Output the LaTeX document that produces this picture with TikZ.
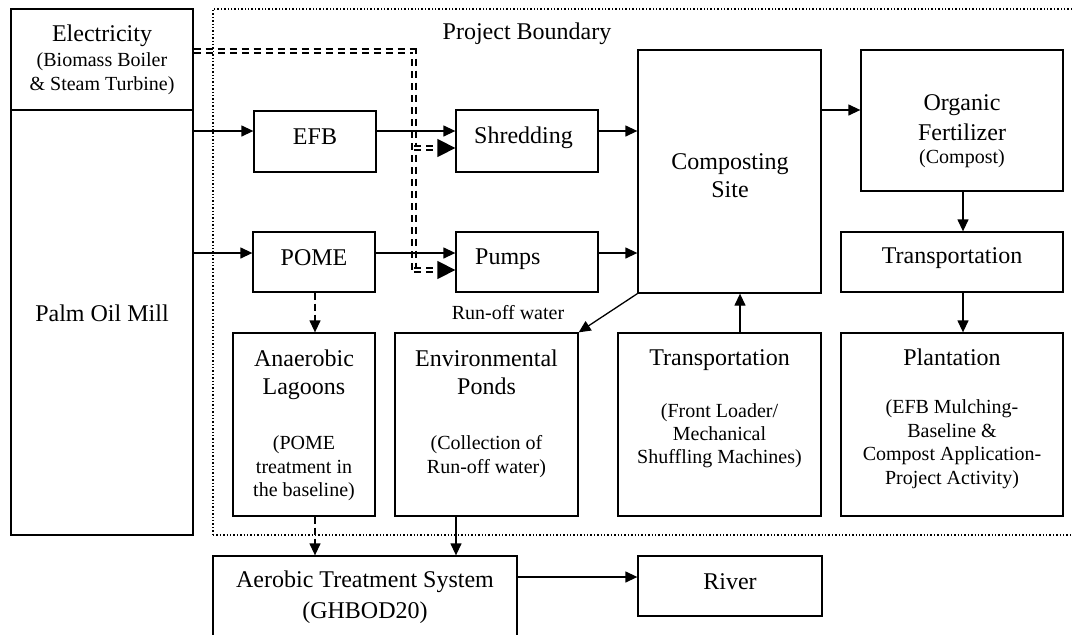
\documentclass[tikz,border=0pt]{standalone}
\usepackage{fontspec}
\setmainfont{Liberation Serif}
\usetikzlibrary{arrows.meta,fit}
\begin{document}
\begin{tikzpicture}[x=1pt,y=-1pt,
  box/.style={draw,line width=1.3pt,inner sep=0pt,rectangle},
  big/.style={font=\fontsize{24}{28}\selectfont,inner sep=0pt,anchor=base},
  sml/.style={font=\fontsize{20}{24}\selectfont,inner sep=0pt,anchor=base},
  arr/.style={line width=1.3pt,-{Triangle[length=12pt,width=11pt]}},
  darr/.style={arr,dash pattern=on 7pt off 4pt},
  elec/.style={line width=1.4pt,double,double distance=2.4pt,dash pattern=on 7pt off 5pt},
  elecarr/.style={elec,-{Triangle[length=18pt,width=18pt]}},
  boundary/.style={draw,inner sep=0pt,line width=1.6pt,dash pattern=on 1.4pt off 2pt}
]
\useasboundingbox (0,0) rectangle (1072,635);

% project boundary
\node[boundary, fit={(213,9) (1080,535)}] (pb) {};
\node[big] (pbt) at (527,39) {Project Boundary};

% boxes
\node[box, fit={(11,9) (193,110)}] (elecbox) {};
\node[box, fit={(11,110) (193,535)}] (pom) {};
\node[box, fit={(254,111) (376,172)}] (efb) {};
\node[box, fit={(456,110) (598,172)}] (shred) {};
\node[box, fit={(253,232) (375,292)}] (pome) {};
\node[box, fit={(456,232) (598,292)}] (pumps) {};
\node[box, fit={(638,50) (821,293)}] (comp) {};
\node[box, fit={(861,50) (1063,191)}] (org) {};
\node[box, fit={(841,232) (1063,292)}] (trr) {};
\node[box, fit={(841,333) (1063,516)}] (plant) {};
\node[box, fit={(618,333) (821,516)}] (trm) {};
\node[box, fit={(233,333) (375,516)}] (ana) {};
\node[box, fit={(395,333) (578,516)}] (env) {};
\node[box, fit={(213,556) (517,660)}] (aer) {};
\node[box, fit={(638,556) (822,616)}] (river) {};

% texts
\node[big] (t1) at (102,41.5) {Electricity};
\node[sml] (t2) at (102,66.5) {(Biomass Boiler};
\node[sml] (t3) at (102,90) {\& Steam Turbine)};
\node[big] (t4) at (102,321) {Palm Oil Mill};
\node[big] (t5) at (315,144) {EFB};
\node[big,anchor=base west] (t6) at (474,143) {Shredding};
\node[big] (t7) at (314,265) {POME};
\node[big,anchor=base west] (t8) at (475,264) {Pumps};
\node[big] (t9) at (730,169) {Composting};
\node[big] (t10) at (730,197) {Site};
\node[big] (t11) at (962,110) {Organic};
\node[big] (t12) at (962,140) {Fertilizer};
\node[sml] (t13) at (962,163) {(Compost)};
\node[big] (t14) at (952,263) {Transportation};
\node[big] (t15) at (952,365) {Plantation};
\node[sml] (t16) at (952,413) {(EFB Mulching-};
\node[sml] (t17) at (952,437) {Baseline \&};
\node[sml] (t18) at (952,460) {Compost Application-};
\node[sml] (t19) at (952,484) {Project Activity)};
\node[big] (t20) at (719.5,365) {Transportation};
\node[sml] (t21) at (719.5,417) {(Front Loader/};
\node[sml] (t22) at (719.5,440) {Mechanical};
\node[sml] (t23) at (719.5,463) {Shuffling Machines)};
\node[big] (t24) at (304,366) {Anaerobic};
\node[big] (t25) at (304,394) {Lagoons};
\node[sml] (t26) at (304,449) {(POME};
\node[sml] (t27) at (304,473) {treatment in};
\node[sml] (t28) at (304,496) {the baseline)};
\node[big] (t29) at (486.5,366) {Environmental};
\node[big] (t30) at (486.5,394) {Ponds};
\node[sml] (t31) at (486.5,449) {(Collection of};
\node[sml] (t32) at (486.5,473) {Run-off water)};
\node[sml] (t33) at (508,319) {Run-off water};
\node[big] (t34) at (365,587) {Aerobic Treatment System};
\node[big] (t35) at (365,618) {(GHBOD20)};
\node[big] (t36) at (730,589) {River};

% electricity supply (double dashed)
\coordinate (ej) at (414,51);
\coordinate (ej1) at (414,148);
\coordinate (ej2) at (414,270);
\draw[elec] (elecbox.east |- ej) -- (ej) -- (ej2);
\draw[elecarr] (ej1) -- (shred.west |- ej1);
\draw[elecarr] (ej2) -- (pumps.west |- ej2);

% solid flows
\draw[arr] (pom.east |- 0,131) -- (efb.west |- 0,131);
\draw[arr] (efb.east |- 0,131) -- (shred.west |- 0,131);
\draw[arr] (shred.east |- 0,131) -- (comp.west |- 0,131);
\draw[arr] (pom.east |- 0,253) -- (pome.west |- 0,253);
\draw[arr] (pome.east |- 0,253) -- (pumps.west |- 0,253);
\draw[arr] (pumps.east |- 0,253) -- (comp.west |- 0,253);
\draw[arr] (comp.east |- 0,110) -- (org.west |- 0,110);
\draw[arr] (org.south -| 963,0) -- (trr.north -| 963,0);
\draw[arr] (trr.south -| 963,0) -- (plant.north -| 963,0);
\draw[arr] (trm.north -| 740,0) -- (comp.south -| 740,0);
\draw[arr] (comp.south west) -- (env.north east);
\draw[arr] (env.south -| 456,0) -- (aer.north -| 456,0);
\draw[arr] (aer.east |- 0,577) -- (river.west |- 0,577);

% dashed flows
\draw[darr] (pome.south -| 315,0) -- (ana.north -| 315,0);
\draw[darr] (ana.south -| 315,0) -- (aer.north -| 315,0);
\end{tikzpicture}
\end{document}
